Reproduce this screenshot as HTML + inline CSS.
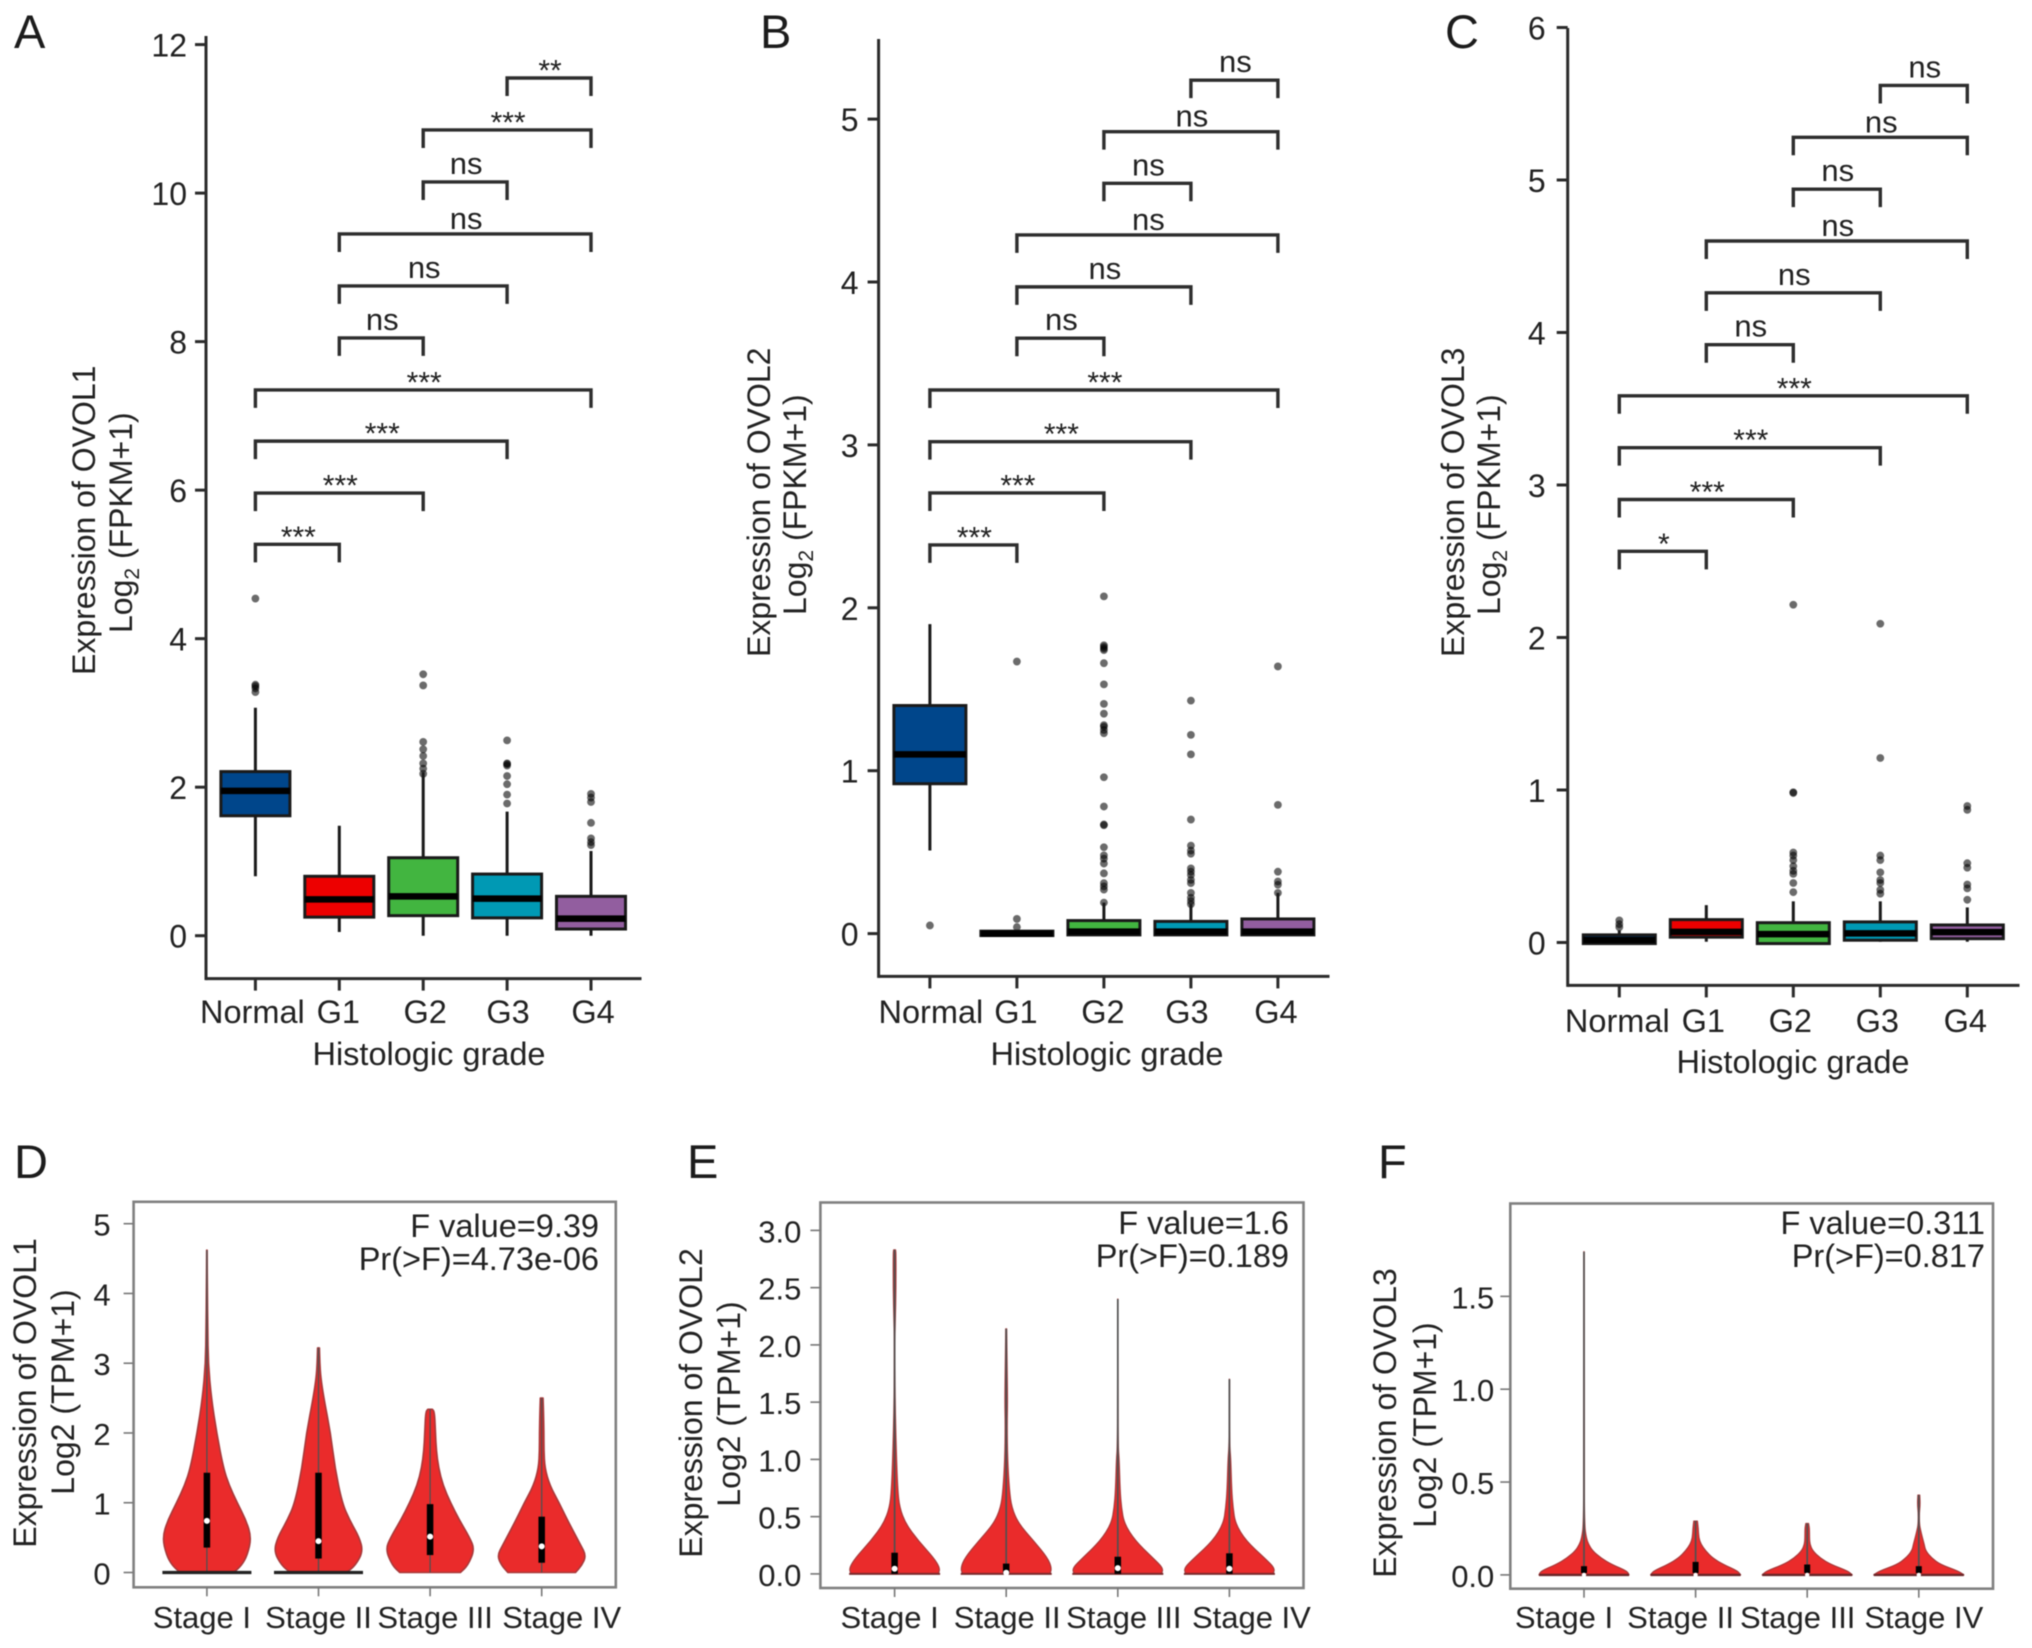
<!DOCTYPE html>
<html lang="en">
<head>
<meta charset="utf-8">
<title>OVOL expression by histologic grade and stage</title>
<style>
html,body{margin:0;padding:0;background:#fff;}
svg{display:block;filter:blur(0.45px);}
text{font-family:"Liberation Sans",Arial,sans-serif;fill:#222;}
.ltr{font-size:47px;fill:#1c1c1c;}
.ttl{font-size:32px;}
.stat{font-size:32.5px;text-anchor:end;}
.xt{font-size:32.5px;text-anchor:middle;}
</style>
</head>
<body>
<svg id="figure" xmlns="http://www.w3.org/2000/svg" width="2032" height="1648" viewBox="0 0 2032 1648">
  <rect width="2032" height="1648" fill="#fff"/>

  <g id="panel-a">
    <text class="ltr" x="14" y="48">A</text>
    <text class="ttl" transform="translate(95,675) rotate(-90)">Expression of OVOL1</text>
    <text class="ttl" transform="translate(132,633) rotate(-90)">Log<tspan dy="7" font-size="21">2</tspan><tspan dy="-7"> (FPKM+1)</tspan></text>
    <text class="xt" x="429" y="1065">Histologic grade</text>
  </g>
  <g id="panel-b">
    <text class="ltr" x="760" y="48">B</text>
    <text class="ttl" transform="translate(770,657) rotate(-90)">Expression of OVOL2</text>
    <text class="ttl" transform="translate(806,615) rotate(-90)">Log<tspan dy="7" font-size="21">2</tspan><tspan dy="-7"> (FPKM+1)</tspan></text>
    <text class="xt" x="1107" y="1065">Histologic grade</text>
  </g>
  <g id="panel-c">
    <text class="ltr" x="1445" y="48">C</text>
    <text class="ttl" transform="translate(1464,657) rotate(-90)">Expression of OVOL3</text>
    <text class="ttl" transform="translate(1500,615) rotate(-90)">Log<tspan dy="7" font-size="21">2</tspan><tspan dy="-7"> (FPKM+1)</tspan></text>
    <text class="xt" x="1793" y="1073">Histologic grade</text>
  </g>

  <g id="panel-d">
    <text class="ltr" x="14" y="1178">D</text>
    <text class="ttl" text-anchor="middle" transform="translate(36,1393) rotate(-90)">Expression of OVOL1</text>
    <text class="ttl" text-anchor="middle" transform="translate(74,1392) rotate(-90)">Log2 (TPM+1)</text>
    <text class="stat" x="599" y="1237">F value=9.39</text>
    <text class="stat" x="599" y="1270">Pr(&gt;F)=4.73e-06</text>
  </g>
  <g id="panel-e">
    <text class="ltr" x="687" y="1178">E</text>
    <text class="ttl" text-anchor="middle" transform="translate(702,1403) rotate(-90)">Expression of OVOL2</text>
    <text class="ttl" text-anchor="middle" transform="translate(740,1404) rotate(-90)">Log2 (TPM+1)</text>
    <text class="stat" x="1289" y="1234">F value=1.6</text>
    <text class="stat" x="1289" y="1267">Pr(&gt;F)=0.189</text>
  </g>
  <g id="panel-f">
    <text class="ltr" x="1378" y="1178">F</text>
    <text class="ttl" text-anchor="middle" transform="translate(1396,1423) rotate(-90)">Expression of OVOL3</text>
    <text class="ttl" text-anchor="middle" transform="translate(1436,1425) rotate(-90)">Log2 (TPM+1)</text>
    <text class="stat" x="1985" y="1234">F value=0.311</text>
    <text class="stat" x="1985" y="1267">Pr(&gt;F)=0.817</text>
  </g>
</svg>

<script>
/* ---------- shared categories ---------- */
const gradeCategories = ['Normal', 'G1', 'G2', 'G3', 'G4'];
const stageCategories = ['Stage I', 'Stage II', 'Stage III', 'Stage IV'];
const bracketPairs = [[0,1],[0,2],[0,3],[0,4],[1,2],[1,3],[1,4],[2,3],[2,4],[3,4]];

/* ---------- panel A: OVOL1 by grade ---------- */
const aTicks = [0, 2, 4, 6, 8, 10, 12];
const aQ1 = [1.615, 0.25, 0.27, 0.24, 0.09];
const aMedian = [1.95, 0.49, 0.53, 0.50, 0.23];
const aQ3 = [2.21, 0.80, 1.05, 0.83, 0.53];
const aWhiskerLow = [0.80, 0.05, 0, 0, 0];
const aWhiskerHigh = [3.07, 1.48, 2.20, 1.67, 1.14];
const aOutliers = [
  [4.54, 3.38, 3.36, 3.33, 3.28],
  [],
  [3.52, 3.37, 2.61, 2.51, 2.42, 2.32, 2.25, 2.18],
  [2.63, 2.32, 2.31, 2.29, 2.15, 2.04, 1.90, 1.78],
  [1.91, 1.86, 1.80, 1.52, 1.31, 1.26, 1.22]
];
const aBracketLevels = [5.27, 5.96, 6.66, 7.35, 8.05, 8.75, 9.45, 10.15, 10.85, 11.55];
const aBracketLabels = ['***', '***', '***', '***', 'ns', 'ns', 'ns', 'ns', '***', '**'];

/* ---------- panel B: OVOL2 by grade ---------- */
const bTicks = [0, 1, 2, 3, 4, 5];
const bQ1 = [0.92, -0.012, -0.008, -0.008, -0.008];
const bMedian = [1.10, 0, 0.012, 0.012, 0.012];
const bQ3 = [1.40, 0.015, 0.08, 0.075, 0.09];
const bWhiskerLow = [0.51, 0, 0, 0, 0];
const bWhiskerHigh = [1.90, 0.015, 0.19, 0.18, 0.25];
const bOutliers = [
  [0.05],
  [1.67, 0.09, 0.04],
  [2.07, 1.77, 1.76, 1.75, 1.74, 1.66, 1.53, 1.41, 1.35, 1.28, 1.27, 1.25, 1.23, 0.96, 0.78, 0.67, 0.665, 0.53, 0.48, 0.46, 0.43, 0.37, 0.31, 0.29, 0.27, 0.19],
  [1.43, 1.22, 1.10, 0.70, 0.54, 0.51, 0.49, 0.40, 0.38, 0.36, 0.33, 0.31, 0.25, 0.22, 0.20, 0.18],
  [1.64, 0.79, 0.38, 0.32, 0.30, 0.25]
];
const bBracketLevels = [2.386, 2.705, 3.02, 3.337, 3.655, 3.97, 4.289, 4.606, 4.923, 5.239];
const bBracketLabels = ['***', '***', '***', '***', 'ns', 'ns', 'ns', 'ns', 'ns', 'ns'];

/* ---------- panel C: OVOL3 by grade ---------- */
const cTicks = [0, 1, 2, 3, 4, 5, 6];
const cQ1 = [-0.007, 0.035, -0.007, 0.015, 0.025];
const cMedian = [0.016, 0.07, 0.055, 0.06, 0.068];
const cQ3 = [0.05, 0.15, 0.13, 0.135, 0.115];
const cWhiskerLow = [-0.007, 0.005, -0.007, 0.005, 0.005];
const cWhiskerHigh = [0.08, 0.245, 0.27, 0.27, 0.23];
const cOutliers = [
  [0.145, 0.12, 0.10],
  [],
  [2.215, 0.985, 0.98, 0.59, 0.57, 0.54, 0.50, 0.47, 0.45, 0.39, 0.33],
  [2.09, 1.21, 0.57, 0.54, 0.46, 0.41, 0.39, 0.345, 0.32],
  [0.895, 0.87, 0.52, 0.49, 0.38, 0.355, 0.28]
];
const cBracketLevels = [2.565, 2.905, 3.245, 3.585, 3.92, 4.26, 4.60, 4.94, 5.28, 5.62];
const cBracketLabels = ['*', '***', '***', '***', 'ns', 'ns', 'ns', 'ns', 'ns', 'ns'];

/* ---------- panel D: OVOL1 by stage ---------- */
const dTicks = [0, 1, 2, 3, 4, 5];
const dLevels = [
  [0, 0.1, 0.25, 0.5, 0.75, 1.0, 1.25, 1.5, 2.0, 2.5, 3.0, 3.5, 4.0, 4.62],
  [0, 0.1, 0.3, 0.5, 0.75, 1.0, 1.5, 2.0, 2.5, 2.8, 3.0, 3.22],
  [0, 0.1, 0.33, 0.5, 0.75, 1.0, 1.25, 1.5, 1.75, 2.0, 2.3, 2.34],
  [0, 0.1, 0.24, 0.4, 0.75, 1.0, 1.25, 1.5, 1.75, 2.0, 2.3, 2.5]
];
const dDensity = [
  [60, 78, 91, 100, 88, 68, 50, 37, 22, 10, 3, 2, 1, 0.5],
  [63, 83, 100, 92, 70, 53, 37, 27, 12, 5, 3, 2],
  [68, 85, 100, 89, 66, 46, 29, 19, 14, 12, 10, 5],
  [76, 90, 100, 87, 58, 39, 18, 7, 5, 5, 4, 3]
];
const dBoxQ1 = [0.357, 0.20, 0.25, 0.14];
const dBoxQ3 = [1.43, 1.43, 0.98, 0.80];
const dBoxMedian = [0.74, 0.45, 0.515, 0.375];
const dWhisker = [4.62, 3.22, 2.34, 2.5];

/* ---------- panel E: OVOL2 by stage ---------- */
const eTicks = [0, 0.5, 1, 1.5, 2, 2.5, 3];
const eLevels = [
  [0, 0.05, 0.14, 0.29, 0.44, 0.58, 0.73, 1.02, 1.5, 2.05, 2.2, 2.5, 2.8, 2.83],
  [0, 0.05, 0.14, 0.29, 0.44, 0.58, 0.73, 1.0, 1.3, 1.5, 1.8, 2.14],
  [0, 0.05, 0.14, 0.29, 0.44, 0.58, 0.73, 1.0, 1.1, 1.5, 2.4],
  [0, 0.05, 0.14, 0.29, 0.44, 0.58, 0.73, 1.0, 1.1, 1.3, 1.7]
];
const eDensity = [
  [96, 100, 86, 52, 24, 11, 7, 4, 1, 0.5, 1.5, 3, 3, 2],
  [96, 100, 91, 60, 27, 12, 7, 3, 2, 3, 2, 1],
  [96, 100, 77, 38, 14, 8, 5, 3, 1, 0.3, 0.3],
  [96, 100, 77, 36, 13, 8, 5, 3, 1, 0.3, 0.3]
];
const eBoxQ1 = [0, 0, 0, 0];
const eBoxQ3 = [0.185, 0.09, 0.15, 0.18];
const eBoxMedian = [0.045, 0.01, 0.05, 0.045];
const eWhisker = [2.83, 2.14, 2.4, 1.7];

/* ---------- panel F: OVOL3 by stage ---------- */
const fTicks = [0, 0.5, 1, 1.5];
const fLevels = [
  [0, 0.02, 0.056, 0.09, 0.13, 0.165, 0.2, 0.27, 0.6, 1.74],
  [0, 0.02, 0.056, 0.09, 0.13, 0.165, 0.2, 0.25, 0.29],
  [0, 0.02, 0.056, 0.09, 0.13, 0.165, 0.2, 0.25, 0.277],
  [0, 0.02, 0.056, 0.09, 0.13, 0.165, 0.2, 0.24, 0.27, 0.33, 0.38, 0.43]
];
const fDensity = [
  [100, 96, 62, 38, 19, 10, 5, 1, 0.6, 0.3],
  [100, 94, 62, 38, 22, 12, 7, 6, 4],
  [100, 91, 53, 29, 12, 6, 5, 5, 3],
  [100, 88, 48, 29, 15, 12, 8, 4, 1.5, 1, 3, 2]
];
const fBoxQ1 = [0.01, 0.01, 0.01, 0.01];
const fBoxQ3 = [0.047, 0.07, 0.056, 0.047];
const fBoxMedian = [0, 0, 0, 0];
const fWhisker = [1.74, 0.29, 0.277, 0.43];

/* ---------- colours and layout ---------- */
const gradeFill = ['#00468B', '#ED0000', '#42B540', '#0099B4', '#925E9F'];
const INK = '#2b2b2b';
const NS = 'http://www.w3.org/2000/svg';

function add(parent, tag, attrs) {
  const node = document.createElementNS(NS, tag);
  for (const k in attrs) node.setAttribute(k, attrs[k]);
  parent.appendChild(node);
  return node;
}

function drawBoxPanel(p, layout, ticks, q1, median, q3, lo, hi, outliers, levels, labels) {
  const g = document.getElementById(p);
  const y = v => layout.y0 - v * layout.unit;
  const x = i => layout.cat0 + i * layout.catStep;

  const yAxis = add(g, 'line', {x1: layout.axisX, x2: layout.axisX, y1: layout.axisTop, y2: layout.axisBottom + 1.5, stroke: INK, 'stroke-width': 3});
  
  
  const xAxis = add(g, 'line', {x1: layout.axisX, x2: layout.axisRight, y1: layout.axisBottom, y2: layout.axisBottom, stroke: INK, 'stroke-width': 3});
  
  

  ticks.forEach(t => {
    const tick = add(g, 'line', {x1: layout.axisX - 11, x2: layout.axisX, y1: y(t), y2: y(t), stroke: INK, 'stroke-width': 3});
    
    
    const lab = add(g, 'text', {x: layout.axisX - layout.tickGap, y: y(t) + 12, 'text-anchor': 'end', 'font-size': 32});
    
    
    lab.textContent = String(t);
  });

  gradeCategories.forEach((c, i) => {
    const tick = add(g, 'line', {x1: x(i), x2: x(i), y1: layout.axisBottom, y2: layout.axisBottom + 12, stroke: INK, 'stroke-width': 3});
    
    
    const lab = add(g, 'text', {x: x(i) + layout.labelShift[i], y: layout.xLabelY, 'text-anchor': 'middle', 'font-size': 32.5});
    
    
    lab.textContent = c;

    outliers[i].forEach(v => {
      const dot = add(g, 'circle', {cx: x(i), cy: y(v), r: 3.9, fill: '#000', 'fill-opacity': 0.58});
      
      
    });

    const whisk = add(g, 'line', {x1: x(i), x2: x(i), y1: y(hi[i]), y2: y(lo[i]), stroke: '#1a1a1a', 'stroke-width': 3});
    
    

    const box = add(g, 'rect', {x: x(i) - layout.boxW / 2, y: y(q3[i]), width: layout.boxW, height: Math.max(y(q1[i]) - y(q3[i]), 0.5), fill: gradeFill[i], stroke: '#1a1a1a', 'stroke-width': 3});
    
    

    const med = add(g, 'line', {x1: x(i) - layout.boxW / 2, x2: x(i) + layout.boxW / 2, y1: y(median[i]), y2: y(median[i]), stroke: '#000', 'stroke-width': 6.5});
    
    
  });

  bracketPairs.forEach((pair, k) => {
    const x1 = x(pair[0]);
    const x2 = x(pair[1]);
    const by = y(levels[k]);
    const br = add(g, 'path', {d: 'M' + x1 + ' ' + (by + 18) + 'V' + by + 'H' + x2 + 'V' + (by + 18), fill: 'none', stroke: '#2e2e2e', 'stroke-width': 3.4});
    
    
    const isNs = labels[k] === 'ns';
    const long = pair[1] === 4 && pair[0] !== 3;
    const ty = isNs ? by - (long ? 5 : 8) : by + 2.5;
    const txt = add(g, 'text', {x: (x1 + x2) / 2 + 1, y: ty, 'text-anchor': 'middle', 'font-size': isNs ? 31 : 30});
    
    
    txt.textContent = labels[k];
  });
}

function smoothSide(pts) {
  let d = '';
  for (let i = 0; i < pts.length - 1; i++) {
    const mx = (pts[i][0] + pts[i + 1][0]) / 2;
    const my = (pts[i][1] + pts[i + 1][1]) / 2;
    d += 'Q' + pts[i][0] + ' ' + pts[i][1] + ' ' + mx + ' ' + my;
  }
  const last = pts[pts.length - 1];
  return d + 'L' + last[0] + ' ' + last[1];
}

function drawViolinPanel(p, layout, ticks, levels, density, q1, q3, median, whisker) {
  const g = document.getElementById(p);
  const y = v => layout.y0 - v * layout.unit;
  const x = i => layout.cat0 + i * layout.catStep;

  const frame = add(g, 'rect', {x: layout.left, y: layout.top, width: layout.right - layout.left, height: layout.bottom - layout.top, fill: 'none', stroke: '#808080', 'stroke-width': 2.6});
  
  

  ticks.forEach(t => {
    const tick = add(g, 'line', {x1: layout.left - 10, x2: layout.left, y1: y(t), y2: y(t), stroke: '#777', 'stroke-width': 1.6});
    
    
    const lab = add(g, 'text', {x: layout.left - layout.tickGap, y: y(t) + 12, 'text-anchor': 'end', 'font-size': 31});
    
    
    lab.textContent = layout.decimals ? t.toFixed(1) : String(t);
  });

  stageCategories.forEach((c, i) => {
    const tick = add(g, 'line', {x1: x(i), x2: x(i), y1: layout.bottom, y2: layout.bottom + 9, stroke: '#777', 'stroke-width': 1.6});
    
    
    const lab = add(g, 'text', {x: x(i) + layout.labelShift[i], y: 1628, 'text-anchor': 'middle', 'font-size': 31});
    
    
    lab.textContent = c;

    const left = levels[i].map((v, k) => [x(i) - density[i][k] / 100 * layout.half, y(v)]);
    const right = levels[i].map((v, k) => [x(i) + density[i][k] / 100 * layout.half, y(v)]).reverse();
    const d = 'M' + left[0][0] + ' ' + left[0][1] + smoothSide(left) + 'L' + right[0][0] + ' ' + right[0][1] + smoothSide(right) + 'Z';
    const v = add(g, 'path', {d: d, fill: '#ea2b2b', stroke: '#a8393a', 'stroke-width': layout.outline, 'stroke-linejoin': 'round'});
    
    

    const w = add(g, 'line', {x1: x(i), x2: x(i), y1: y(whisker[i]), y2: y(0), stroke: '#505050', 'stroke-width': layout.whiskerW});
    
    

    if (layout.baseStroke[i] > 0) {
      const base = add(g, 'line', {x1: x(i) - layout.half, x2: x(i) + layout.half, y1: y(0), y2: y(0), stroke: layout.baseColor, 'stroke-width': layout.baseStroke[i]});
      
      
    }

    const b = add(g, 'rect', {x: x(i) - layout.boxW / 2, y: y(q3[i]), width: layout.boxW, height: y(q1[i]) - y(q3[i]), fill: '#000'});
    
    

    const m = add(g, 'circle', {cx: x(i), cy: y(median[i]), r: layout.dot, fill: '#fff'});
    
    
  });
}

drawBoxPanel('panel-a',
  {axisX: 206, axisTop: 36, axisBottom: 978.6, axisRight: 641.5, y0: 935.7, unit: 74.26, cat0: 255.4, catStep: 83.9, boxW: 69, tickGap: 19, xLabelY: 1023, labelShift: [-3, -1, 2, 1, 2]},
  aTicks, aQ1, aMedian, aQ3, aWhiskerLow, aWhiskerHigh, aOutliers, aBracketLevels, aBracketLabels);
drawBoxPanel('panel-b',
  {axisX: 878.6, axisTop: 39, axisBottom: 976.4, axisRight: 1329.5, y0: 933.6, unit: 162.9, cat0: 929.9, catStep: 87, boxW: 72, tickGap: 20, xLabelY: 1023, labelShift: [1, -1, -1, -4, -2]},
  bTicks, bQ1, bMedian, bQ3, bWhiskerLow, bWhiskerHigh, bOutliers, bBracketLevels, bBracketLabels);
drawBoxPanel('panel-c',
  {axisX: 1567.7, axisTop: 28, axisBottom: 985.4, axisRight: 2019.5, y0: 942.5, unit: 152.5, cat0: 1619.3, catStep: 87, boxW: 72, tickGap: 22, xLabelY: 1032, labelShift: [-2, -3, -3, -3, -2]},
  cTicks, cQ1, cMedian, cQ3, cWhiskerLow, cWhiskerHigh, cOutliers, cBracketLevels, cBracketLabels);

drawViolinPanel('panel-d',
  {left: 133.6, right: 615.8, top: 1201.8, bottom: 1587.3, y0: 1572.5, unit: 69.76, cat0: 206.9, catStep: 111.6, half: 44.5, boxW: 6.5, dot: 3, tickGap: 23, decimals: false, labelShift: [-5, 0, 5, 20], baseStroke: [3.2, 3.2, 0, 0], baseColor: '#222', outline: 1.6, whiskerW: 1.3},
  dTicks, dLevels, dDensity, dBoxQ1, dBoxQ3, dBoxMedian, dWhisker);
drawViolinPanel('panel-e',
  {left: 820.4, right: 1303.5, top: 1202.5, bottom: 1588, y0: 1573.9, unit: 114.5, cat0: 894.6, catStep: 111.6, half: 45.5, boxW: 6.5, dot: 3, tickGap: 19, decimals: true, labelShift: [-5, 1, 6, 22], baseStroke: [2, 2, 2, 2], baseColor: '#7a2a2c', outline: 1.2, whiskerW: 1.7},
  eTicks, eLevels, eDensity, eBoxQ1, eBoxQ3, eBoxMedian, eWhisker);
drawViolinPanel('panel-f',
  {left: 1510.3, right: 1993, top: 1203.5, bottom: 1588.7, y0: 1574.9, unit: 185.7, cat0: 1584, catStep: 111.6, half: 45, boxW: 6, dot: 2.2, tickGap: 16, decimals: true, labelShift: [-20, -15, -9.5, 5], baseStroke: [2.4, 2.4, 2.4, 2.4], baseColor: '#6a2628', outline: 1.2, whiskerW: 1.7},
  fTicks, fLevels, fDensity, fBoxQ1, fBoxQ3, fBoxMedian, fWhisker);
</script>
</body>
</html>
